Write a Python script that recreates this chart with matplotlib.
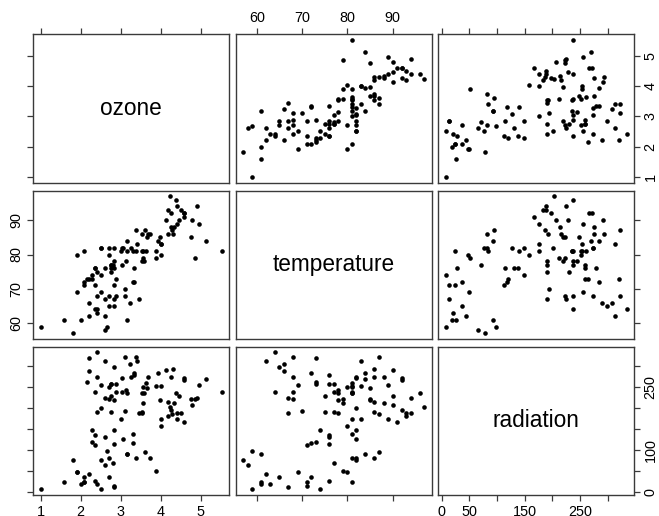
import matplotlib
matplotlib.use("Agg")
import matplotlib.pyplot as plt

plt.rcParams["font.family"] = ["Liberation Sans", "DejaVu Sans"]

# Environmental measurements (ozone shown as cube root, ppb^(1/3))
ozone = [
    3.45, 3.30, 2.29, 2.62, 2.84, 2.67, 2.00, 2.52, 2.22, 2.41,
    2.62, 2.41, 3.24, 1.82, 3.11, 2.22, 1.00, 2.22, 1.59, 3.17,
    2.84, 3.56, 4.86, 3.33, 3.07, 4.14, 3.39, 2.84, 2.76, 3.33,
    2.71, 2.29, 2.35, 5.13, 3.66, 3.17, 4.00, 3.42, 4.25, 4.59,
    4.59, 4.40, 2.15, 3.00, 1.91, 3.63, 3.27, 3.94, 4.29, 3.98,
    2.52, 4.31, 4.76, 2.71, 3.73, 4.34, 3.68, 4.00, 3.89, 3.39,
    2.08, 2.52, 4.96, 4.46, 4.79, 3.53, 3.04, 4.02, 2.80, 3.89,
    2.84, 3.14, 3.53, 2.76, 2.08, 3.56, 5.52, 4.18, 4.24, 4.90,
    4.38, 4.40, 4.58, 4.27, 4.18, 4.50, 3.61, 3.17, 2.71, 2.84,
    2.76, 2.88, 3.53, 2.76, 3.04, 2.08, 2.35, 3.58, 2.62, 2.35,
    2.88, 2.52, 2.35, 2.84, 3.30, 1.91, 2.41, 3.11, 2.41, 2.62,
    2.71,
]
temperature = [
    67, 72, 74, 62, 65, 59, 61, 69, 66, 68,
    58, 64, 66, 57, 68, 62, 59, 73, 61, 61,
    67, 81, 79, 76, 82, 90, 87, 82, 77, 72,
    65, 73, 76, 84, 85, 81, 83, 83, 88, 92,
    92, 89, 73, 81, 80, 81, 82, 84, 87, 85,
    74, 86, 85, 82, 86, 88, 86, 83, 81, 81,
    81, 82, 89, 90, 90, 86, 82, 80, 77, 79,
    76, 78, 78, 77, 72, 79, 81, 86, 97, 94,
    96, 94, 91, 92, 93, 93, 87, 84, 80, 78,
    75, 73, 81, 76, 77, 71, 71, 78, 67, 76,
    68, 82, 64, 71, 81, 69, 63, 70, 75, 76,
    68,
]
radiation = [
    190, 118, 149, 313, 299, 99, 19, 256, 290, 274,
    65, 334, 307, 78, 322, 44, 8, 320, 25, 92,
    13, 252, 223, 279, 127, 291, 323, 148, 191, 284,
    37, 120, 137, 269, 248, 236, 175, 314, 276, 267,
    272, 175, 264, 175, 48, 260, 274, 285, 187, 220,
    7, 294, 223, 81, 82, 213, 275, 253, 254, 83,
    24, 77, 255, 229, 207, 192, 273, 157, 71, 51,
    115, 244, 190, 259, 36, 212, 238, 215, 203, 225,
    237, 188, 167, 197, 183, 189, 95, 92, 252, 220,
    230, 259, 236, 259, 238, 24, 112, 237, 224, 27,
    238, 201, 238, 14, 139, 49, 20, 193, 191, 131,
    223,
]

names = ["ozone", "temperature", "radiation"]
ozone_ticks = [1, 2, 3, 4, 5]
temperature_ticks = [60, 70, 80, 90]
radiation_ticks = [0, 50, 100, 150, 200, 250, 300]
# crowded labels are left out, the tick mark stays
radiation_x_labels = ["0", "50", "", "150", "", "250", ""]
radiation_y_labels = ["0", "", "100", "", "", "250", ""]

data = [ozone, temperature, radiation]
ticks = [ozone_ticks, temperature_ticks, radiation_ticks]
xlabels = [[str(t) for t in ozone_ticks], [str(t) for t in temperature_ticks],
           radiation_x_labels]
ylabels = [[str(t) for t in ozone_ticks], [str(t) for t in temperature_ticks],
           radiation_y_labels]


def padded(values, frac=0.04):
    lo, hi = min(values), max(values)
    span = hi - lo
    return lo - frac * span, hi + frac * span


W, H = 659, 516
col_left = [33.3, 236.0, 438.3]
col_width = 195.5
row_top = [34.3, 190.7, 346.7]
row_height = 148.2
frame = "#3a3a3a"

fig = plt.figure(figsize=(W / 100, H / 100), dpi=100)

for i in range(3):
    for j in range(3):
        rect = [col_left[j] / W, 1 - (row_top[i] + row_height) / H,
                col_width / W, row_height / H]
        ax = fig.add_axes(rect)
        ax.set_xlim(padded(data[j]))
        ax.set_ylim(padded(data[i]))

        if i == j:
            ax.text(0.5, 0.5, names[i], transform=ax.transAxes,
                    ha="center", va="center", fontsize=16.3)
        else:
            ax.plot(data[j], data[i], "o", ms=3.3, color="black", mec="none")

        ax.set_xticks(ticks[j])
        ax.set_xticklabels(xlabels[j])
        ax.set_yticks(ticks[i])
        ax.set_yticklabels(ylabels[i])

        ax.tick_params(axis="x", top=(i == 0), bottom=(i == 2),
                       labeltop=(i == 0 and j == 1),
                       labelbottom=(i == 2 and j != 1))
        ax.tick_params(axis="y", left=(j == 0), right=(j == 2),
                       labelleft=(j == 0 and i == 1),
                       labelright=(j == 2 and i != 1),
                       labelrotation=90)
        ax.tick_params(length=4, width=0.9, color=frame, pad=3,
                       labelsize=10.4, labelcolor="black")
        for lab in ax.get_yticklabels():
            lab.set_va("center")
        for sp in ax.spines.values():
            sp.set_color(frame)
            sp.set_linewidth(1.0)

fig.savefig("out.png", dpi=100)
